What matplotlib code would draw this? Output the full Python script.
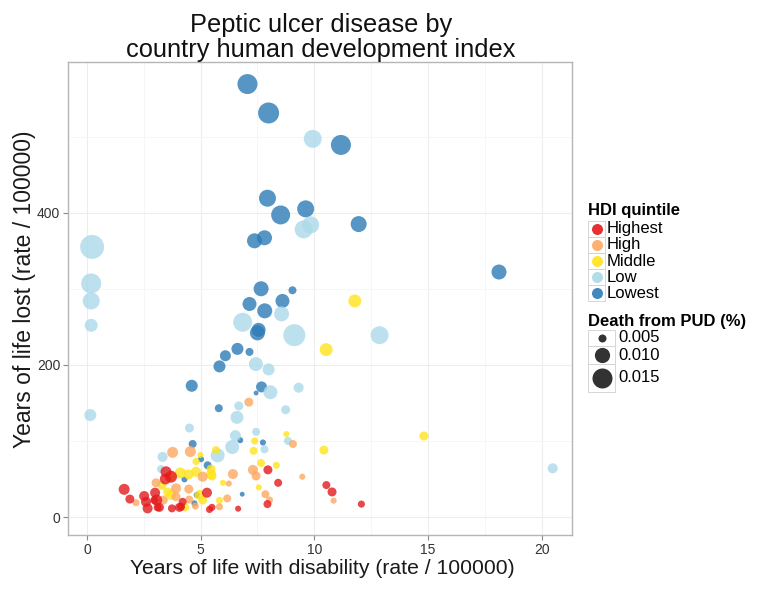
import numpy as np
import matplotlib.pyplot as plt
from matplotlib.lines import Line2D
from matplotlib.patches import Rectangle

# Years of life with disability (x), years of life lost (y), death from PUD (%) per HDI quintile
highest_x = [8.41, 7.96, 7.94, 6.65, 10.53, 10.78, 12.07, 3.48, 3.7, 1.64, 1.89, 2.52, 2.6, 2.67, 3.0,
             3.07, 3.19, 3.74, 4.07, 4.21, 5.28, 5.39, 5.5, 3.11, 4.14, 2.97, 3.45]
highest_y = [45, 62, 17, 11, 42, 33, 17, 59.5, 53, 36.4, 23.6, 27.6, 20, 11.4, 32,
             22.3, 12.7, 11.4, 12.7, 20, 32, 10, 12.7, 12.7, 13.5, 22.3, 50]
highest_d = [0.005, 0.0055, 0.005, 0.0042, 0.005, 0.0055, 0.0046, 0.0067, 0.0074, 0.0067, 0.0055, 0.0061, 0.0061,
             0.0061, 0.0061, 0.0067, 0.0055, 0.005, 0.0055, 0.005, 0.0061, 0.0046, 0.0046, 0.005, 0.005, 0.005, 0.0067]

high_x = [7.12, 9.06, 3.77, 4.55, 7.3, 7.44, 9.47, 7.85, 6.42, 6.24, 10.85, 3.04, 3.92, 4.48, 2.16,
          3.36, 3.92, 4.5, 5.09, 6.17, 8.03, 5.83, 4.77]
high_y = [151, 96, 85, 86, 62, 54, 53, 30, 56.5, 44, 21.5, 45, 37.7, 36.8, 18.8,
          22.3, 26.7, 23, 53, 24.5, 22.3, 13.5, 14.5]
high_d = [0.0055, 0.005, 0.0067, 0.0067, 0.0061, 0.0055, 0.0042, 0.005, 0.0061, 0.0042, 0.0042, 0.0055, 0.0061,
          0.0055, 0.0046, 0.0055, 0.0055, 0.005, 0.0061, 0.005, 0.0046, 0.0046, 0.0046]

middle_x = [11.78, 10.52, 8.77, 7.38, 7.33, 4.99, 5.68, 4.8, 5.46, 8.33, 7.56, 5.98, 5.83, 14.82, 10.42,
            4.11, 4.48, 4.8, 5.46, 3.3, 3.55, 3.7, 4.33, 4.95, 5.09, 3.72, 5.5, 7.66]
middle_y = [284, 220, 109, 100, 87, 81.5, 88, 73, 63, 68, 39, 45, 22, 106.5, 88,
            58, 56, 59.5, 56.5, 41.6, 33, 29, 12.7, 29, 22.3, 53, 54, 71]
middle_d = [0.0081, 0.0081, 0.0042, 0.0046, 0.005, 0.0042, 0.005, 0.0046, 0.0055, 0.0046, 0.0042, 0.0042, 0.0046,
            0.0055, 0.0055, 0.0067, 0.0061, 0.0061, 0.0061, 0.0055, 0.0055, 0.0061, 0.005, 0.0061, 0.0055, 0.0055,
            0.0055, 0.005]

low_x = [9.93, 9.53, 9.84, 0.23, 0.19, 0.19, 0.19, 0.15, 6.85, 8.56, 9.12, 12.87, 7.43, 7.99, 8.07,
         9.31, 6.68, 8.74, 6.6, 4.51, 7.44, 6.53, 8.84, 6.39, 7.81, 3.33, 5.75, 3.26, 20.48]
low_y = [497, 378, 384, 355, 307, 284, 252, 134, 256, 267, 239, 239, 201, 194, 164,
         170, 146, 141, 131, 117, 112, 107, 100, 92, 89, 79, 81, 63, 64]
low_d = [0.0127, 0.0127, 0.0117, 0.0202, 0.015, 0.0117, 0.0081, 0.0074, 0.0138, 0.0098, 0.0175, 0.0127, 0.0089,
         0.0074, 0.0089, 0.0061, 0.0055, 0.0055, 0.0081, 0.0055, 0.005, 0.0067, 0.005, 0.0089, 0.005, 0.0061,
         0.0089, 0.005, 0.0061]

lowest_x = [7.06, 7.99, 11.17, 7.94, 8.52, 9.62, 11.95, 7.37, 7.81, 18.12, 7.66, 9.04, 7.15, 8.6, 7.82,
            7.5, 7.55, 6.62, 7.15, 6.09, 5.83, 4.61, 7.68, 7.44, 5.8, 6.74, 7.74, 4.65, 5.02, 5.31,
            6.83, 4.29, 4.73, 4.83]
lowest_y = [569, 531, 489, 419, 397, 405, 385, 363, 367, 322, 300, 298, 280, 284, 271,
            242, 246, 221, 217, 212, 198, 172.5, 171, 163, 143, 101, 98, 96, 76, 68,
            30, 49.5, 18, 29]
lowest_d = [0.015, 0.0162, 0.015, 0.0117, 0.0138, 0.0117, 0.0107, 0.0098, 0.0098, 0.0098, 0.0098, 0.005, 0.0089,
            0.0089, 0.0098, 0.0098, 0.0089, 0.0074, 0.005, 0.0067, 0.0074, 0.0074, 0.0067, 0.0038, 0.005, 0.0042,
            0.0042, 0.005, 0.0042, 0.005, 0.0038, 0.0042, 0.0042, 0.0042]

groups = ['Highest', 'High', 'Middle', 'Low', 'Lowest']
colors = ['#E31A1C', '#FDA860', '#FFE41C', '#ABD9E9', '#2C7BB6']
size_breaks = [0.005, 0.010, 0.015]
size_labels = ['0.005', '0.010', '0.015']

data = [(highest_x, highest_y, highest_d), (high_x, high_y, high_d), (middle_x, middle_y, middle_d),
        (low_x, low_y, low_d), (lowest_x, lowest_y, lowest_d)]


def diam_px(v):
    v = np.asarray(v, dtype=float)
    return np.sqrt(np.clip(64 + 33600 * (v - 0.005), 16, None))


def msize(v):
    # scatter size in points^2, figure at 100 dpi
    return (diam_px(v) * 0.72) ** 2


plt.rcParams['font.family'] = ['Liberation Sans', 'DejaVu Sans']

W, H = 762, 590
fig = plt.figure(figsize=(W / 100, H / 100), dpi=100)
ax = fig.add_axes([68 / W, 1 - 535 / H, (572 - 68) / W, (535 - 62) / H])

for i in [4, 3, 2, 1, 0]:
    xs, ys, ds = data[i]
    ax.scatter(xs, ys, s=msize(ds), color=colors[i], alpha=0.8, linewidths=0, zorder=3)

ax.set_xlim(-0.83, 21.33)
ax.set_ylim(-23.6, 598)
ax.set_xticks([0, 5, 10, 15, 20])
ax.set_yticks([0, 200, 400])
ax.set_xticks([2.5, 7.5, 12.5, 17.5], minor=True)
ax.set_yticks([100, 300, 500], minor=True)
ax.grid(True, which='major', color='#EDEDED', linewidth=0.8, zorder=0)
ax.grid(True, which='minor', color='#F5F5F5', linewidth=0.6, zorder=0)
ax.tick_params(which='minor', length=0)
ax.tick_params(which='major', length=3.5, color='#8A8A8A', labelsize=10, labelcolor='#333333', pad=2)
for sp in ax.spines.values():
    sp.set_color('#B5B5B5')
    sp.set_linewidth(1.0)
ax.set_axisbelow(True)


def fx(px):
    return px / W


def fy(py):
    return 1 - py / H


# titles and axis labels
fig.text(fx(321), fy(32), 'Peptic ulcer disease by', ha='center', va='baseline', fontsize=18.3, color='#111111')
fig.text(fx(321), fy(57), 'country human development index', ha='center', va='baseline', fontsize=18.3,
         color='#111111')
fig.text(fx(322), fy(574), 'Years of life with disability (rate / 100000)', ha='center', va='baseline',
         fontsize=15.2, color='#1A1A1A')
fig.text(fx(25), fy(289.5), 'Years of life lost (rate / 100000)', ha='center', va='center', rotation=90,
         fontsize=16.5, color='#1A1A1A')

# colour legend
fig.text(fx(588), fy(211), 'HDI quintile', fontsize=12, fontweight='bold', va='center', ha='left')
row_y = [229, 245, 261, 277, 293]
for g, c, yy in zip(groups, colors, row_y):
    fig.add_artist(Rectangle((fx(588), fy(yy + 8)), 17 / W, 16 / H, transform=fig.transFigure,
                             facecolor='white', edgecolor='#D0D0D0', linewidth=0.6))
    fig.add_artist(Line2D([fx(596.5)], [fy(yy)], marker='o', markersize=11 * 0.72, color=c, alpha=0.9,
                          markeredgewidth=0, linestyle='none', transform=fig.transFigure))
    fig.text(fx(607), fy(yy), g, fontsize=12, va='center', ha='left')

# size legend
fig.text(fx(588), fy(322), 'Death from PUD (%)', fontsize=12, fontweight='bold', va='center', ha='left')
box_top = [330, 346, 364]
box_h = [16, 18, 28]
for v, lab, bt, bh in zip(size_breaks, size_labels, box_top, box_h):
    cy = bt + bh / 2
    fig.add_artist(Rectangle((fx(588), fy(bt + bh)), 27 / W, bh / H, transform=fig.transFigure,
                             facecolor='white', edgecolor='#D0D0D0', linewidth=0.6))
    fig.add_artist(Line2D([fx(601.5)], [fy(cy)], marker='o', markersize=float(diam_px(v)) * 0.72,
                          color='#333333', markeredgewidth=0, linestyle='none', transform=fig.transFigure))
    fig.text(fx(618), fy(cy), lab, fontsize=12, va='center', ha='left')

fig.savefig('out.png', dpi=100)
